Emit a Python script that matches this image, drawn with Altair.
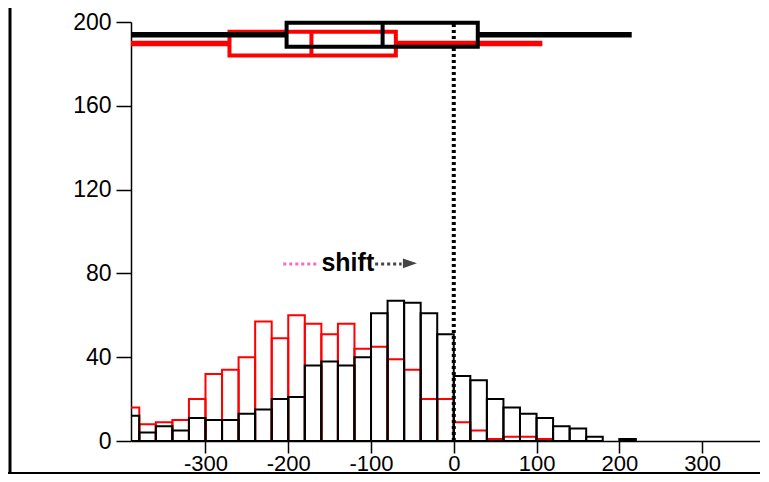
import altair as alt
import pandas as pd

# ---------------- data ----------------
bin_start = list(range(-400, 220, 20))  # 20-wide bins
black_counts = [12, 4, 7, 5, 11, 10, 10, 13, 15, 20,
                21, 36, 38, 36, 40, 61, 67, 66, 61, 51,
                31, 29, 20, 16, 13, 11, 7, 6, 2, 0, 1]
red_counts = [16, 8, 9, 10, 20, 32, 34, 40, 57, 49,
              60, 56, 51, 56, 44, 45, 39, 34, 20, 20,
              9, 5, 1, 2, 2, 1, 0, 0, 0, 0, 0]

groups = ["red", "black"]
q1 = [-271, -202]
median = [-172, -86]
q3 = [-70, 29]
whisker_lo = [-400, -400]
whisker_hi = [107, 215]

x_ticks = [-300, -200, -100, 0, 100, 200, 300]
y_ticks = [0, 40, 80, 120, 160, 200]

# ---------------- layout ----------------
W, H = 629, 419
PAD = {"left": 123, "top": 14, "right": 0, "bottom": 33}
XDOM = [-390, 370]
YDOM = [0, 200]
BOX_Y = {"red": 189.7, "black": 193.9}
BOX_HALF = 5.7
COLORS = {"red": "#ff0000", "black": "#000000"}
FONT = "Liberation Sans"

xs = alt.Scale(domain=XDOM, nice=False, zero=False)
ys = alt.Scale(domain=YDOM, nice=False, zero=False)

x_axis = alt.Axis(values=x_ticks, title=None, grid=False, tickSize=12, labelPadding=0,
                  labelFontSize=22, labelFont=FONT, labelColor="black", tickColor="black",
                  domainColor="black", tickWidth=1.5, domainWidth=1.5, labelFlush=False,
                  labelExpr="datum.value < 0 ? '-' + abs(datum.value) : '' + datum.value")
y_axis = alt.Axis(values=y_ticks, title=None, grid=False, tickSize=15, labelPadding=5,
                  labelFontSize=23, labelFont=FONT, labelColor="black", tickColor="black",
                  domainColor="black", tickWidth=1.5, domainWidth=1.5)

rows = []
for g, counts in (("red", red_counts), ("black", black_counts)):
    for s, c in zip(bin_start, counts):
        if c > 0:
            rows.append({"start": s, "end": s + 20, "count": c, "group": g})
hist = pd.DataFrame(rows)

layers = []
for g in groups:
    layers.append(
        alt.Chart(hist[hist.group == g]).mark_bar(filled=False, color=COLORS[g], strokeWidth=2, clip=True)
        .encode(x=alt.X("start:Q", scale=xs, axis=x_axis), x2="end:Q",
                y=alt.Y("count:Q", scale=ys, axis=y_axis), y2=alt.datum(0))
    )

one = pd.DataFrame({"a": [0]})

# vertical dotted line at 0
layers.append(
    alt.Chart(one).mark_rule(color="black", strokeDash=[3, 3], strokeWidth=4)
    .encode(x=alt.datum(0), y=alt.datum(0), y2=alt.datum(200))
)

# box plots
box_df = pd.DataFrame({"group": groups, "q1": q1, "median": median, "q3": q3,
                       "lo": whisker_lo, "hi": whisker_hi})
for g in groups:
    d = box_df[box_df.group == g]
    yc = BOX_Y[g]
    c = COLORS[g]
    base = alt.Chart(d)
    layers.append(base.mark_rule(color=c, strokeWidth=5.5, clip=True)
                  .encode(x="lo:Q", x2="q1:Q", y=alt.datum(yc)))
    layers.append(base.mark_rule(color=c, strokeWidth=5.5, clip=True)
                  .encode(x="q3:Q", x2="hi:Q", y=alt.datum(yc)))
    layers.append(base.mark_rect(fillOpacity=0, stroke=c, strokeWidth=4)
                  .encode(x="q1:Q", x2="q3:Q", y=alt.datum(yc - BOX_HALF), y2=alt.datum(yc + BOX_HALF)))
    layers.append(base.mark_rule(color=c, strokeWidth=4)
                  .encode(x="median:Q", y=alt.datum(yc - BOX_HALF), y2=alt.datum(yc + BOX_HALF)))

# shift annotation
layers.append(alt.Chart(one).mark_rule(color="#ff66cc", strokeDash=[3, 3], strokeWidth=3)
              .encode(x=alt.datum(-206), x2=alt.datum(-164), y=alt.datum(84.5)))
layers.append(alt.Chart(one).mark_rule(color="#444444", strokeDash=[3, 3], strokeWidth=3)
              .encode(x=alt.datum(-95), x2=alt.datum(-63), y=alt.datum(84.5)))
layers.append(alt.Chart(one).mark_point(shape="M-1,-0.7L1,0L-1,0.7Z", filled=True, color="#444444",
                                        size=196, opacity=1)
              .encode(x=alt.datum(-53), y=alt.datum(84.8)))
layers.append(alt.Chart(one).mark_text(text="shift", font=FONT, fontWeight="bold", fontSize=25,
                                       baseline="alphabetic", align="center", color="black")
              .encode(x=alt.datum(-128), y=alt.datum(81)))

# outer frame lines (left and bottom)
layers.append(alt.Chart(one).mark_rule(color="black", strokeWidth=3)
              .encode(x=alt.value(-121), y=alt.value(-14), y2=alt.value(H + PAD["bottom"])))
layers.append(alt.Chart(one).mark_rule(color="black", strokeWidth=2)
              .encode(x=alt.value(-123), x2=alt.value(W), y=alt.value(H + 32)))

chart = alt.layer(*layers).properties(
    width=W, height=H, padding=PAD, background="white",
    autosize=alt.AutoSizeParams(type="none"),
).configure_view(strokeWidth=0)

chart.save("out.html", embed_options={"renderer": "svg", "actions": False})
